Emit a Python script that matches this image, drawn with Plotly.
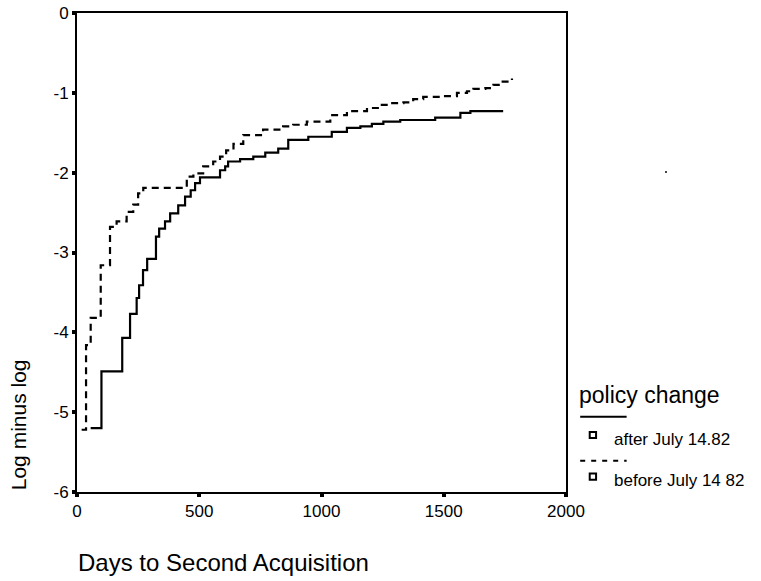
import plotly.graph_objects as go

# Log-minus-log survival curves, step functions (days, value)
after_days = [56, 100, 185, 217, 244, 254, 270, 287, 323, 336, 360, 381, 414, 442, 465, 483, 503,
              585, 606, 618, 667, 721, 770, 823, 864, 946, 1042, 1104, 1159, 1206, 1253, 1322,
              1465, 1568, 1609, 1743]
after_vals = [-5.20, -4.49, -4.07, -3.77, -3.57, -3.41, -3.22, -3.08, -2.80, -2.70, -2.61, -2.51,
              -2.41, -2.30, -2.22, -2.13, -2.06, -1.97, -1.92, -1.86, -1.83, -1.80, -1.75, -1.70,
              -1.59, -1.55, -1.49, -1.44, -1.42, -1.39, -1.36, -1.34, -1.31, -1.25, -1.23, -1.23]

before_days = [19, 37, 56, 97, 135, 162, 203, 230, 250, 271, 299, 449, 476, 516, 557, 585, 610,
               640, 680, 761, 843, 884, 940, 1036, 1104, 1186, 1240, 1281, 1335, 1375, 1416,
               1492, 1554, 1595, 1621, 1670, 1703, 1731, 1779]
before_vals = [-5.22, -4.16, -3.82, -3.16, -2.68, -2.61, -2.49, -2.40, -2.26, -2.19, -2.19, -2.05,
               -2.01, -1.92, -1.86, -1.80, -1.72, -1.64, -1.53, -1.46, -1.42, -1.40, -1.36, -1.28,
               -1.23, -1.19, -1.15, -1.13, -1.12, -1.08, -1.05, -1.04, -1.00, -0.98, -0.95, -0.94,
               -0.90, -0.86, -0.82]

x_ticks = [0, 500, 1000, 1500, 2000]
y_ticks = [0, -1, -2, -3, -4, -5, -6]
y_tick_text = ["0", "-1", "-2", "-3", "-4", "-5", "-6"]

legend_title = "policy change"
group_labels = ["after July 14.82", "before July 14 82"]

FONT = "Liberation Sans, Arial, sans-serif"

fig = go.Figure()
fig.add_trace(go.Scatter(x=after_days, y=after_vals, mode="lines", line_shape="hv",
                         line=dict(color="black", width=2.2), name=group_labels[0],
                         showlegend=False))
fig.add_trace(go.Scatter(x=before_days, y=before_vals, mode="lines", line_shape="hv",
                         line=dict(color="black", width=2.2, dash="7px,5px"), name=group_labels[1],
                         showlegend=False))

axis_common = dict(showline=True, linecolor="black", linewidth=2, mirror=True,
                   showgrid=False, zeroline=False, ticks="outside", ticklen=3,
                   tickwidth=4, tickcolor="black", automargin=False,
                   tickfont=dict(family=FONT, size=17, color="black"))

fig.update_xaxes(range=[0, 2000], tickvals=x_ticks, **axis_common)
fig.update_yaxes(range=[-6, 0], tickvals=y_ticks, ticktext=y_tick_text, **axis_common)

annotations = [
    dict(text="Log minus log", xref="paper", yref="paper", x=-0.118, y=0.14,
         textangle=-90, showarrow=False, font=dict(family=FONT, size=21, color="black"),
         xanchor="center", yanchor="middle"),
    dict(text="Days to Second Acquisition", xref="paper", yref="paper", x=-0.002, y=-0.148,
         showarrow=False, font=dict(family=FONT, size=24, color="black"),
         xanchor="left", yanchor="middle"),
    dict(text=legend_title, xref="paper", yref="paper", x=1.023, y=0.2025,
         showarrow=False, font=dict(family=FONT, size=23, color="black"),
         xanchor="left", yanchor="middle"),
    dict(text=group_labels[0], xref="paper", yref="paper", x=1.094, y=0.110,
         showarrow=False, font=dict(family=FONT, size=17, color="black"),
         xanchor="left", yanchor="middle"),
    dict(text=group_labels[1], xref="paper", yref="paper", x=1.094, y=0.023,
         showarrow=False, font=dict(family=FONT, size=17, color="black"),
         xanchor="left", yanchor="middle"),
]

shapes = [
    # legend line samples
    dict(type="line", xref="paper", yref="paper", x0=1.029, x1=1.124, y0=0.157, y1=0.157,
         line=dict(color="black", width=2)),
    dict(type="line", xref="paper", yref="paper", x0=1.029, x1=1.124, y0=0.065, y1=0.065,
         line=dict(color="black", width=2, dash="5px,6px")),
    # legend marker boxes
    dict(type="rect", xref="paper", yref="paper", x0=1.0485, x1=1.0615, y0=0.1125, y1=0.1255,
         line=dict(color="black", width=2)),
    dict(type="rect", xref="paper", yref="paper", x0=1.0485, x1=1.0615, y0=0.0255, y1=0.0385,
         line=dict(color="black", width=2)),
    # small dot right of the plot
    dict(type="circle", xref="paper", yref="paper", x0=1.2025, x1=1.2065, y0=0.666, y1=0.670,
         fillcolor="black", line=dict(width=0)),
]

fig.update_layout(
    width=761, height=581,
    margin=dict(l=77, r=195, t=13, b=89),
    paper_bgcolor="white", plot_bgcolor="white",
    annotations=annotations, shapes=shapes,
    font=dict(family=FONT, color="black"),
)

fig.write_html("out.html")
